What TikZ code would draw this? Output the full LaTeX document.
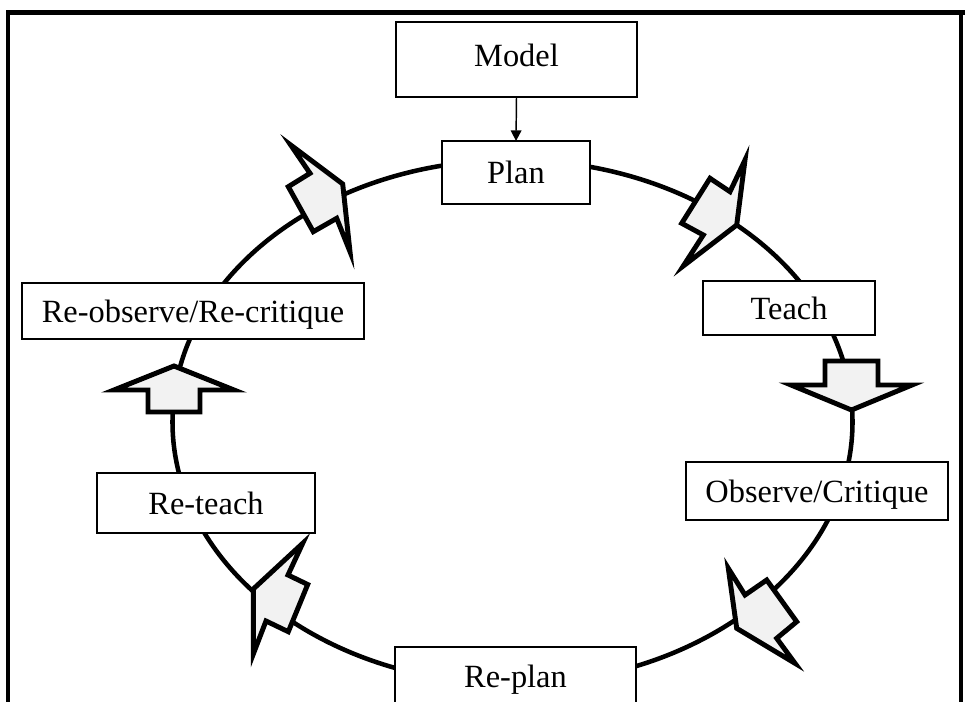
\documentclass[tikz,border=0pt]{standalone}
\usepackage{fontspec}
\setmainfont{Liberation Serif}
\usetikzlibrary{arrows.meta}
\begin{document}
\begin{tikzpicture}[x=0.75pt,y=-0.75pt,
  box/.style={draw=black, line width=1.1pt, fill=white, inner sep=0pt, outer sep=0pt,
    text height=17pt, text depth=0pt, font=\fontsize{24.3}{29}\selectfont},
  cyc/.style={line width=3.4pt, draw=black},
  blockarrow/.style={draw=black, line width=3.7pt, fill=gray!10, line join=miter, miter limit=10},
  frame/.style={draw=black, line width=3pt}]
\useasboundingbox (0,0) rectangle (965,702);
% frame
\draw[frame] (8,702) -- (8,12.5);
\draw[frame, line width=3.75pt] (6,12.5) -- (965,12.5);
\draw[frame] (961,12.5) -- (961,702);
% cycle
\draw[cyc] (512.5,422) ellipse [x radius=340, y radius=262];
% boxes
\node[box, minimum width=180.75pt, minimum height=56.25pt] (model) at (516.5,59.5) {\raisebox{3pt}{Model}};
\node[box, minimum width=111pt, minimum height=47.25pt] (plan) at (516,172.5) {Plan};
\node[box, minimum width=129pt, minimum height=40.5pt] (teach) at (789,308) {Teach};
\node[box, minimum width=196.5pt, minimum height=43.5pt] (observe) at (817,491) {Observe/Critique};
\node[box, minimum width=180.75pt, minimum height=43.5pt] (replan) at (515.5,676) {Re-plan};
\node[box, minimum width=163.5pt, minimum height=45pt] (reteach) at (206,503) {Re-teach};
\node[box, minimum width=256.5pt, minimum height=42pt] (reobserve) at (193,311) {Re-observe/Re-critique};
% model -> plan
\draw[line width=1.1pt, -{Triangle[length=8pt,width=8pt]}] (model.south) -- (plan.north);
% block arrows along the cycle
\draw[blockarrow] (342.7,184) -- (290.7,145) -- (310,173.3) -- (288.3,186.7) -- (313.3,231.7) -- (336.7,218.3) -- (350,251.7) -- cycle;
\draw[blockarrow] (736.7,225) -- (745,160) -- (730,191.7) -- (710,178.3) -- (681.7,223.3) -- (703.3,235) -- (683.3,266) -- cycle;
\draw[blockarrow] (851.5,410) -- (912,385) -- (878,385) -- (878,361) -- (825,361) -- (825,385) -- (791,385) -- cycle;
\draw[blockarrow] (736.7,628.3) -- (728.3,568.3) -- (745,595) -- (766.7,580) -- (796.7,621.7) -- (776.7,638.3) -- (795,663.3) -- cycle;
\draw[blockarrow] (253.3,589) -- (302.7,543.3) -- (288,575) -- (307.7,584.5) -- (288.3,631.7) -- (266,621) -- (253.3,654) -- cycle;
\draw[blockarrow] (174,366) -- (234,390) -- (200,390) -- (200,412) -- (148,412) -- (148,390) -- (114,390) -- cycle;
\end{tikzpicture}
\end{document}
